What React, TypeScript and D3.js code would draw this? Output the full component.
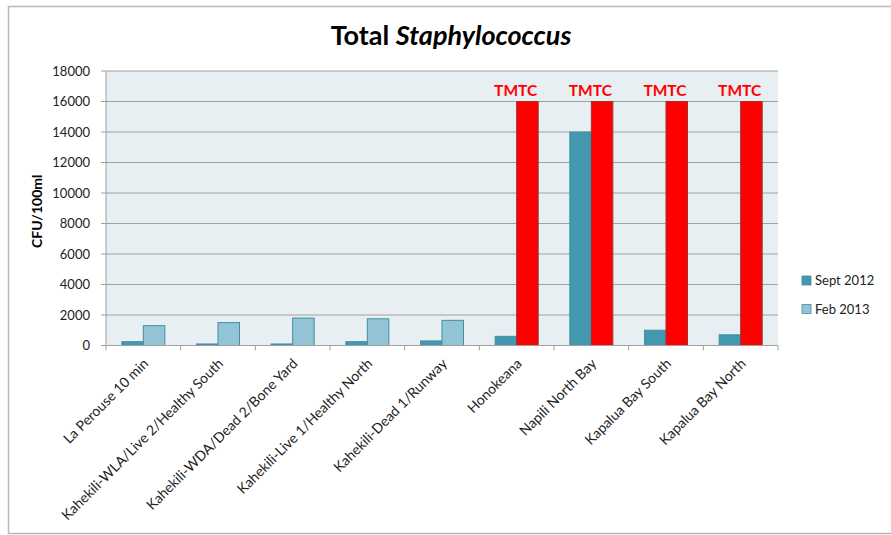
import React from "react";
import * as d3 from "d3";

// Sampling sites along the x axis
const sites = [
  "La Perouse 10 min",
  "Kahekili-WLA/Live 2/Healthy South",
  "Kahekili-WDA/Dead 2/Bone Yard",
  "Kahekili-Live 1/Healthy North",
  "Kahekili-Dead 1/Runway",
  "Honokeana",
  "Napili North Bay",
  "Kapalua Bay South",
  "Kapalua Bay North",
];

// CFU/100ml per survey
const sept2012 = [250, 100, 100, 250, 300, 600, 14000, 1000, 700];
const feb2013 = [1300, 1500, 1800, 1750, 1650, 16000, 16000, 16000, 16000];
// Too numerous to count (drawn at the 16000 cap, in red)
const feb2013Tmtc = [false, false, false, false, false, true, true, true, true];

const seriesNames = ["Sept 2012", "Feb 2013"];
const yTicks = [0, 2000, 4000, 6000, 8000, 10000, 12000, 14000, 16000, 18000];

const W = 891;
const H = 535;
const FONT = "Lato, 'Open Sans', sans-serif";

const SEPT_FILL = "#4397ae";
const FEB_FILL = "#93c4d6";
const BAR_STROKE = "#3f8fa5";
const TMTC_FILL = "#ff0000";

export default function App() {
  const plot = { left: 106, right: 778, top: 71, bottom: 345.5 };

  const x = d3
    .scaleBand<string>()
    .domain(sites)
    .range([plot.left, plot.right]);

  const y = d3
    .scaleLinear()
    .domain([0, 18000])
    .range([plot.bottom, plot.top]);

  const barW = x.bandwidth() * 0.288;
  const center = (s: string) => (x(s) as number) + x.bandwidth() / 2;

  return (
    <svg
      width={W}
      height={H}
      style={{ position: "absolute", left: 0, top: 0, background: "#fff" }}
      fontFamily={FONT}
    >
      {/* chart frame */}
      <path
        d={`M${W + 2},6.5 H8.5 V533.5 H${W + 2}`}
        fill="none"
        stroke="#b8b8b8"
        strokeWidth={1.5}
      />

      {/* title */}
      <text x={451} y={45} textAnchor="middle" fontSize={27} fontWeight="bold" fill="#000">
        Total <tspan fontStyle="italic">Staphylococcus</tspan>
      </text>

      {/* plot background */}
      <rect
        x={plot.left}
        y={plot.top}
        width={plot.right - plot.left}
        height={plot.bottom - plot.top}
        fill="#e8eff3"
      />

      {/* gridlines and y labels */}
      {yTicks.map((t) => (
        <g key={t}>
          {t > 0 && (
            <line
              x1={plot.left}
              x2={plot.right}
              y1={y(t)}
              y2={y(t)}
              stroke="#a0a0a0"
              strokeWidth={1}
            />
          )}
          <line x1={plot.left - 5} x2={plot.left} y1={y(t)} y2={y(t)} stroke="#a0a0a0" />
          <text
            x={90}
            y={y(t)}
            dy="0.35em"
            textAnchor="end"
            fontSize={13}
            fill="#222"
          >
            {t}
          </text>
        </g>
      ))}

      {/* y axis title */}
      <text
        transform={`translate(42,${(plot.top + plot.bottom) / 2 + 3}) rotate(-90)`}
        textAnchor="middle"
        fontSize={14}
        fontWeight="bold"
        fill="#000"
      >
        CFU/100ml
      </text>

      {/* bars */}
      {sites.map((s, i) => {
        const c = center(s);
        const red = feb2013Tmtc[i];
        return (
          <g key={s}>
            <rect
              x={c - barW}
              y={y(sept2012[i])}
              width={barW}
              height={plot.bottom - y(sept2012[i])}
              fill={SEPT_FILL}
              stroke={BAR_STROKE}
              strokeWidth={1}
            />
            <rect
              x={c}
              y={y(feb2013[i])}
              width={barW}
              height={plot.bottom - y(feb2013[i])}
              fill={red ? TMTC_FILL : FEB_FILL}
              stroke={red ? "#a03030" : BAR_STROKE}
              strokeWidth={1}
            />
            {red && (
              <text
                x={c - 1}
                y={y(feb2013[i]) - 6}
                textAnchor="middle"
                fontSize={15.5}
                fontWeight="bold"
                fill={TMTC_FILL}
              >
                TMTC
              </text>
            )}
          </g>
        );
      })}

      {/* x axis line and ticks */}
      <line x1={plot.left} x2={plot.right} y1={plot.bottom} y2={plot.bottom} stroke="#a0a0a0" />
      {d3.range(sites.length + 1).map((k) => {
        const tx = plot.left + k * x.step();
        return (
          <line key={k} x1={tx} x2={tx} y1={plot.bottom} y2={plot.bottom + 5} stroke="#a0a0a0" />
        );
      })}
      <line x1={plot.left} x2={plot.left} y1={plot.top} y2={plot.bottom} stroke="#a0a0a0" />

      {/* category labels */}
      {sites.map((s) => (
        <text
          key={s}
          transform={`translate(${center(s) + 6},${plot.bottom + 19}) rotate(-45)`}
          textAnchor="end"
          fontSize={14}
          fill="#222"
        >
          {s}
        </text>
      ))}

      {/* legend */}
      {seriesNames.map((n, i) => (
        <g key={n} transform={`translate(802,${276 + i * 28.5})`}>
          <rect
            x={0}
            y={0}
            width={9}
            height={9}
            fill={i === 0 ? SEPT_FILL : FEB_FILL}
            stroke={BAR_STROKE}
            strokeWidth={0.8}
          />
          <text x={13} y={4.5} dy="0.35em" fontSize={13} fill="#222">
            {n}
          </text>
        </g>
      ))}
    </svg>
  );
}
